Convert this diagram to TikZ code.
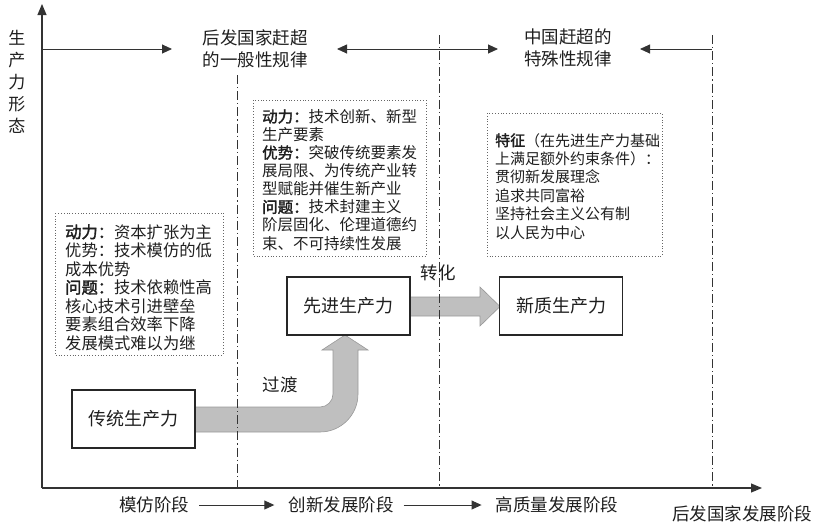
\documentclass[tikz,border=0pt]{standalone}
\usepackage{fontspec}
\setmainfont{Noto Sans CJK SC}[AutoFakeBold=2]
\usetikzlibrary{arrows.meta,calc}

\begin{document}
\begin{tikzpicture}[x=1pt,y=-1pt,
  txt/.style={inner sep=0pt, text=black!88},
  note/.style={txt, anchor=base west, align=left},
  prodbox/.style={draw=black!85, line width=1.3pt, minimum width=123pt, minimum height=58pt,
                  font=\fontsize{18}{22}\selectfont, text=black!88, inner sep=0pt},
  dotbox/.style={draw=black!60, line width=0.8pt, dash pattern=on 0.9pt off 1.9pt},
  sepline/.style={draw=black!80, line width=0.9pt, dash pattern=on 9pt off 3pt on 1.2pt off 3pt},
  axisline/.style={draw=black!80, line width=1.1pt, -{Triangle[length=11pt,width=9pt]}},
  harrow/.style={draw=black!80, line width=0.9pt, -{Triangle[length=10pt,width=9pt]}},
  flow/.style={fill=black!25, draw=black!40, line width=0.6pt},
  title/.style={txt, align=center, font=\fontsize{17.5}{22}\selectfont},
  stage/.style={txt, font=\fontsize{17.5}{21}\selectfont},
]
\useasboundingbox (0,0) rectangle (813,525);

% dotted boxes
\draw[dotbox] (55,213) rectangle (223,355);
\draw[dotbox] (253,100) rectangle (426,256);
\draw[dotbox] (487,113) rectangle (662,256);

% gray flow arrows
\draw[flow] (195,407) -- (320,407) .. controls (327.2,407) and (333,401.2) .. (333,394)
  -- (333,350) -- (322,350) -- (345,335) -- (368,350) -- (358,350) -- (358,394)
  .. controls (358,415) and (341,432) .. (320,432) -- (195,432) -- cycle;
\draw[flow] (410,297) -- (480,297) -- (480,287) -- (500,306.5) -- (480,326) -- (480,316) -- (410,316) -- cycle;

% productivity boxes
\node[prodbox, fill=white] (trad) at (133.5,419) {传统生产力};
\node[prodbox] (adv) at (348.5,306) {先进生产力};
\node[prodbox, fill=white] (new) at (561,306) {新质生产力};

% separators
\coordinate (s1t) at (237,75);  \coordinate (s1b) at (237,488);
\coordinate (s2t) at (439,35);  \coordinate (s2b) at (439,488);
\coordinate (s3t) at (712,35);  \coordinate (s3b) at (712,488);
\draw[sepline] (s1t) -- (s1b);
\draw[sepline] (s2t) -- (s2b);
\draw[sepline] (s3t) -- (s3b);

% axes
\coordinate (O) at (42,488);
\coordinate (ytip) at (42,4);
\coordinate (xtip) at (762,488);
\draw[axisline] (O) -- (ytip);
\draw[axisline] (O) -- (xtip);

% top arrows
\coordinate (a0) at (42,49);   \coordinate (a0t) at (172,49);
\coordinate (d1) at (439,49);  \coordinate (a1t) at (337,49);  \coordinate (a2t) at (498,49);
\coordinate (d2) at (712,49);  \coordinate (a3t) at (640,49);
\draw[harrow] (a0) -- (a0t);
\draw[harrow] (d1) -- (a1t);
\draw[harrow] (d1) -- (a2t);
\draw[harrow] (d2) -- (a3t);

% titles
\node[title] (t1) at (255,49) {后发国家赶超\\的一般性规律};
\node[title] (t2) at (568,48) {中国赶超的\\特殊性规律};
\node[txt, align=center, font=\fontsize{17}{22}\selectfont] (ylab) at (17,82) {生\\产\\力\\形\\态};

% notes (anchored at the baseline of the last line)
\node[note, font=\fontsize{16.3}{18.5}\selectfont] (n1) at (65,349)
  {\textbf{动力：}资本扩张为主\\优势：技术模仿的低\\成本优势\\\textbf{问题：}技术依赖性高\\核心技术引进壁垒\\要素组合效率下降\\发展模式难以为继};
\node[note, font=\fontsize{15.5}{18.1}\selectfont] (n2) at (262,249)
  {\textbf{动力：}技术创新、新型\\生产要素\\\textbf{优势：}突破传统要素发\\展局限、为传统产业转\\型赋能并催生新产业\\\textbf{问题：}技术封建主义\\阶层固化、伦理道德约\\束、不可持续性发展};
\node[note, font=\fontsize{15}{18.4}\selectfont] (n3) at (495,238)
  {\textbf{特征}（在先进生产力基础\\上满足额外约束条件）：\\贯彻新发展理念\\追求共同富裕\\坚持社会主义公有制\\以人民为中心};

% flow labels
\node[txt, font=\fontsize{17.5}{21}\selectfont] (guodu) at (280,385) {过渡};
\node[txt, font=\fontsize{17.5}{21}\selectfont] (zhuanhua) at (438,273) {转化};

% stages
\node[stage] (st1) at (154,505) {模仿阶段};
\node[stage] (st2) at (341,505) {创新发展阶段};
\node[stage] (st3) at (557,505) {高质量发展阶段};
\node[stage] (st4) at (742,514) {后发国家发展阶段};
\draw[harrow, shorten <=10pt, shorten >=14pt] (st1.east) -- (st2.west);
\draw[harrow, shorten <=10pt, shorten >=14pt] (st2.east) -- (st3.west);
\end{tikzpicture}
\end{document}
